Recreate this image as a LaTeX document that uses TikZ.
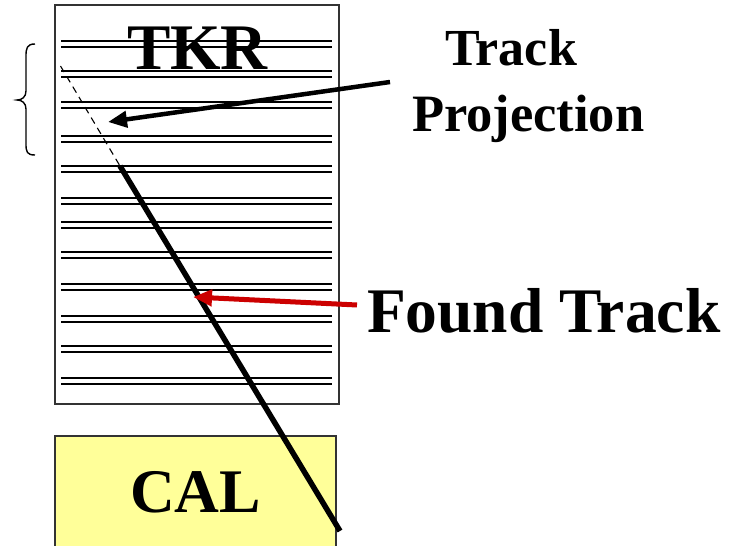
\documentclass[tikz,border=0pt]{standalone}
\usepackage{fontspec}
\setmainfont{Liberation Serif}
\usetikzlibrary{arrows.meta}
\definecolor{calfill}{HTML}{FFFF99}
\definecolor{arrred}{HTML}{CC0000}
\definecolor{boxline}{HTML}{333333}
\begin{document}
\begin{tikzpicture}[x=1pt,y=-1pt,
  boxshape/.style={draw=boxline,line width=1.6pt,inner sep=0pt,outer sep=0pt},
  layer/.style={line width=1.8pt},
  lbl/.style={inner sep=0pt,outer sep=0pt,font=\bfseries},
  bigarrow/.style={line width=4.5pt,-{Triangle[length=19pt,width=16pt]}}]
\clip (0,0) rectangle (732,546);
\fill[white] (0,0) rectangle (732,546);
% TKR box
\node[boxshape,minimum width=284pt,minimum height=399pt] (tkr) at (197,204.5) {};
% CAL box
\node[boxshape,fill=calfill,minimum width=281pt,minimum height=124pt] (cal) at (195.5,498) {};
% labels
\node[lbl,anchor=base,font=\bfseries\fontsize{65}{65}\selectfont] (tkrlbl) at (197.5,69) {TKR};
\node[lbl,anchor=base,font=\bfseries\fontsize{62}{62}\selectfont] (callbl) at (195.5,512.7) {CAL};
\node[lbl,anchor=base west,font=\bfseries\fontsize{52}{52}\selectfont] (track) at (445,65.7) {Track};
\node[lbl,anchor=base west,font=\bfseries\fontsize{52.5}{52.5}\selectfont] (proj) at (412,131.7) {Projection};
\node[lbl,anchor=base west,font=\bfseries\fontsize{63.5}{63.5}\selectfont] (found) at (367,332.3) {Found Track};
% layers
\foreach \y in {40.7,70.7,102,136,165.7,198.3,222.3,252,284.3,316.3,346,378.3}{
  \draw[layer] (61,\y) -- (332,\y);
  \draw[layer] (61,\y+6) -- (332,\y+6);
}
% track
\coordinate (tstart) at (60.5,66);
\coordinate (tmid) at (120,166);
\coordinate (tend) at (340,531);
\draw[line width=1.1pt,dash pattern=on 7pt off 5pt] (tstart) -- (tmid);
\draw[line width=5.5pt] (tmid) -- (tend);
% arrows
\coordinate (pa) at (390,82);
\coordinate (pb) at (108,122);
\draw[bigarrow] (pa) -- (pb);
\coordinate (fa) at (357,305);
\coordinate (fb) at (193,297);
\draw[bigarrow,arrred,line width=5pt] (fa) -- (fb);
% brace
\draw[line width=1.4pt] (35,44) .. controls (27,44) and (26,48) .. (26,56) -- (26,91)
  .. controls (26,97) and (22,100) .. (17,100)
  .. controls (22,100) and (26,103) .. (26,109) -- (26,144)
  .. controls (26,152) and (27,155) .. (35,155);
\end{tikzpicture}
\end{document}
